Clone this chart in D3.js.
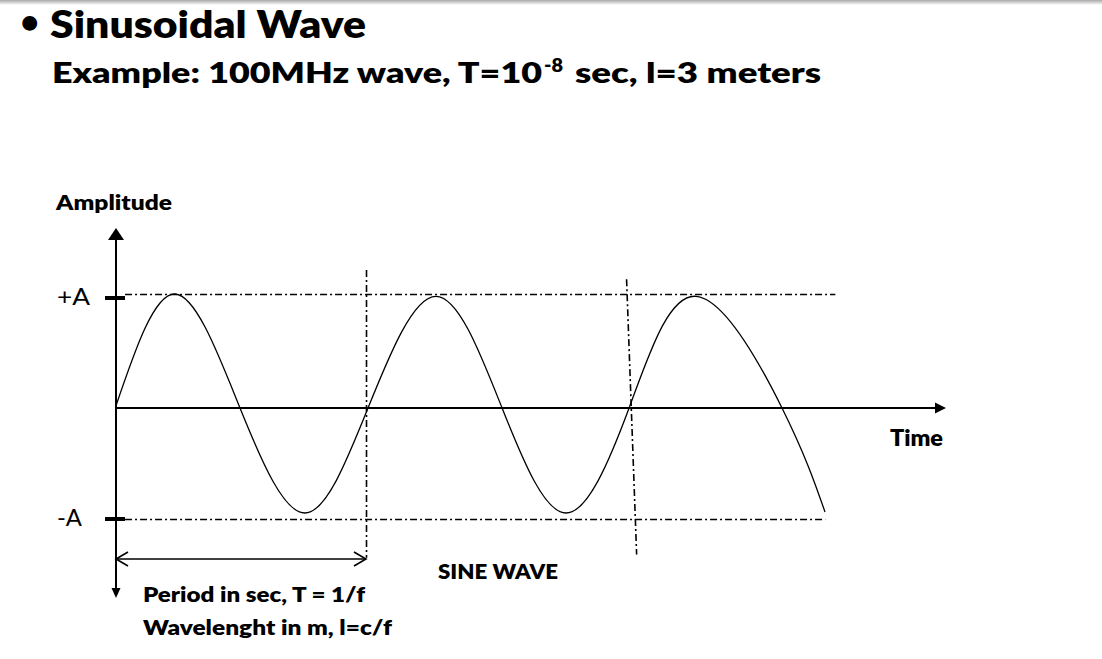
<!DOCTYPE html>
<html>
<head>
<meta charset="utf-8">
<script src="https://cdn.jsdelivr.net/npm/d3@7"></script>
<style>
  html, body { margin: 0; padding: 0; background: #fff; }
  svg { display: block; }
  text { font-family: Lato, "Open Sans", sans-serif; fill: #000; }
</style>
</head>
<body>
<svg id="chart" width="1102" height="659"></svg>
<script>
// ---- data (time in ns, amplitude in units of A) ----
const waveTime = [0, 2.35, 4.93, 7.51, 10.02, 12.72, 15.35, 17.89, 20.40, 23.06, 26.48, 28.19];
const waveAmp  = [0.02, 1.0, 0, -0.946, 0, 0.98, 0, -0.946, 0, 0.98, 0, -0.937];
const ampTickValues = [0.965, -1];
const ampTickLabels = ["+A", "-A"];
const refLevels = [1, -1];
const refLevelEnds = [28.6, 28.2];
const markerTimeTop = [9.94, 20.28];
const markerTimeBottom = [9.94, 20.68];
const markerAmpTop = [1.21, 1.13];
const markerAmpBottom = [-1.35, -1.32];
const periodSpan = [0, 9.94];
const periodAmp = -1.36;

const svg = d3.select("#chart");
const x = d3.scaleLinear().domain([0, 33]).range([116, 946]);
const y = d3.scaleLinear().domain([-1, 0, 1]).range([519, 408, 294]);

// top shadow
const defs = svg.append("defs");
const g0 = defs.append("linearGradient").attr("id", "shade").attr("x1", 0).attr("x2", 0).attr("y1", 0).attr("y2", 1);
g0.append("stop").attr("offset", "0%").attr("stop-color", "#a8a8a8");
g0.append("stop").attr("offset", "100%").attr("stop-color", "#ffffff");
svg.append("rect").attr("x", 0).attr("y", 0).attr("width", 1102).attr("height", 5).attr("fill", "url(#shade)");

// titles
const W = 800;
svg.append("text").attr("x", 21).attr("y", 32).attr("font-size", 30).attr("font-weight", W).text("•");
svg.append("text").attr("x", 50).attr("y", 38).attr("font-size", 38).attr("font-weight", W)
  .attr("textLength", 316).attr("lengthAdjust", "spacingAndGlyphs").text("Sinusoidal Wave");
svg.append("text").attr("x", 52).attr("y", 83).attr("font-size", 28).attr("font-weight", W)
  .attr("textLength", 490).attr("lengthAdjust", "spacingAndGlyphs").text("Example: 100MHz wave, T=10");
svg.append("text").attr("x", 544).attr("y", 72).attr("font-size", 18).attr("font-weight", W)
  .attr("textLength", 19).attr("lengthAdjust", "spacingAndGlyphs").text("-8");
svg.append("text").attr("x", 575).attr("y", 83).attr("font-size", 28).attr("font-weight", W)
  .attr("textLength", 246).attr("lengthAdjust", "spacingAndGlyphs").text("sec, l=3 meters");

// dash-dot reference levels
const dashPattern = "7,3,2,3";
svg.selectAll("line.level").data(refLevels).join("line").attr("class", "level")
  .attr("x1", x(0.36)).attr("x2", (d, i) => x(refLevelEnds[i]))
  .attr("y1", d => y(d) + 0.5).attr("y2", d => y(d) + 0.5)
  .attr("stroke", "#000").attr("stroke-width", 1.6).attr("stroke-dasharray", dashPattern);

// period markers
svg.selectAll("line.marker").data(markerTimeTop).join("line").attr("class", "marker")
  .attr("x1", d => x(d) + 0.5).attr("y1", (d, i) => y(markerAmpTop[i]))
  .attr("x2", (d, i) => x(markerTimeBottom[i]) + 0.5).attr("y2", (d, i) => y(markerAmpBottom[i]))
  .attr("stroke", "#000").attr("stroke-width", 1.6).attr("stroke-dasharray", dashPattern);

// axes
const ax = svg.append("g").attr("stroke", "#000");
ax.append("line").attr("x1", x(0)).attr("x2", x(0)).attr("y1", 238).attr("y2", 590).attr("stroke-width", 2);
ax.append("path").attr("d", `M${x(0)},228 L${x(0)-8},240 L${x(0)+8},240 Z`).attr("fill", "#000").attr("stroke", "none");
ax.append("path").attr("d", `M${x(0)},598 L${x(0)-4.5},588 L${x(0)+4.5},588 Z`).attr("fill", "#000").attr("stroke", "none");
ax.append("line").attr("x1", x(0)).attr("x2", x(32.6)).attr("y1", y(0)).attr("y2", y(0)).attr("stroke-width", 2);
ax.append("path").attr("d", `M${x(33)},${y(0)} L${x(33)-11},${y(0)-5.5} L${x(33)-11},${y(0)+5.5} Z`).attr("fill", "#000").attr("stroke", "none");

// ticks
svg.selectAll("line.tick").data(ampTickValues).join("line").attr("class", "tick")
  .attr("x1", 105).attr("x2", 125).attr("y1", d => y(d)).attr("y2", d => y(d))
  .attr("stroke", "#000").attr("stroke-width", 4);
svg.selectAll("text.tl").data(ampTickValues).join("text").attr("class", "tl")
  .attr("x", 57).attr("y", d => y(d) + 7).attr("font-size", 23)
  .attr("textLength", (d, i) => i === 0 ? 33 : 25).attr("lengthAdjust", "spacingAndGlyphs")
  .text((d, i) => ampTickLabels[i]);

// wave
const pts = waveTime.map((t, i) => [t, waveAmp[i]]);
const line = d3.line().x(d => x(d[0])).y(d => y(d[1])).curve(d3.curveNatural);
svg.append("path").attr("d", line(pts)).attr("fill", "none").attr("stroke", "#000").attr("stroke-width", 1.3);

// period arrow
const py = y(periodAmp);
const pa = svg.append("g").attr("stroke", "#000").attr("stroke-width", 1.6).attr("fill", "none");
pa.append("line").attr("x1", x(periodSpan[0])).attr("x2", x(periodSpan[1])).attr("y1", py).attr("y2", py);
pa.append("path").attr("d", `M${x(periodSpan[0])+12},${py-7} L${x(periodSpan[0])},${py} L${x(periodSpan[0])+12},${py+7}`);
pa.append("path").attr("d", `M${x(periodSpan[1])-12},${py-7} L${x(periodSpan[1])},${py} L${x(periodSpan[1])-12},${py+7}`);

// labels
function lab(t, xx, yy, fs, len) {
  svg.append("text").attr("x", xx).attr("y", yy).attr("font-size", fs).attr("font-weight", W)
    .attr("textLength", len).attr("lengthAdjust", "spacingAndGlyphs").text(t);
}
lab("Amplitude", 56, 210, 21, 116);
lab("Time", 890, 446, 22, 53);
lab("SINE WAVE", 438, 579, 21, 120);
lab("Period in sec, T = 1/f", 143, 602, 21, 222);
lab("Wavelenght in m, l=c/f", 143, 635, 21, 249);
</script>
</body>
</html>
